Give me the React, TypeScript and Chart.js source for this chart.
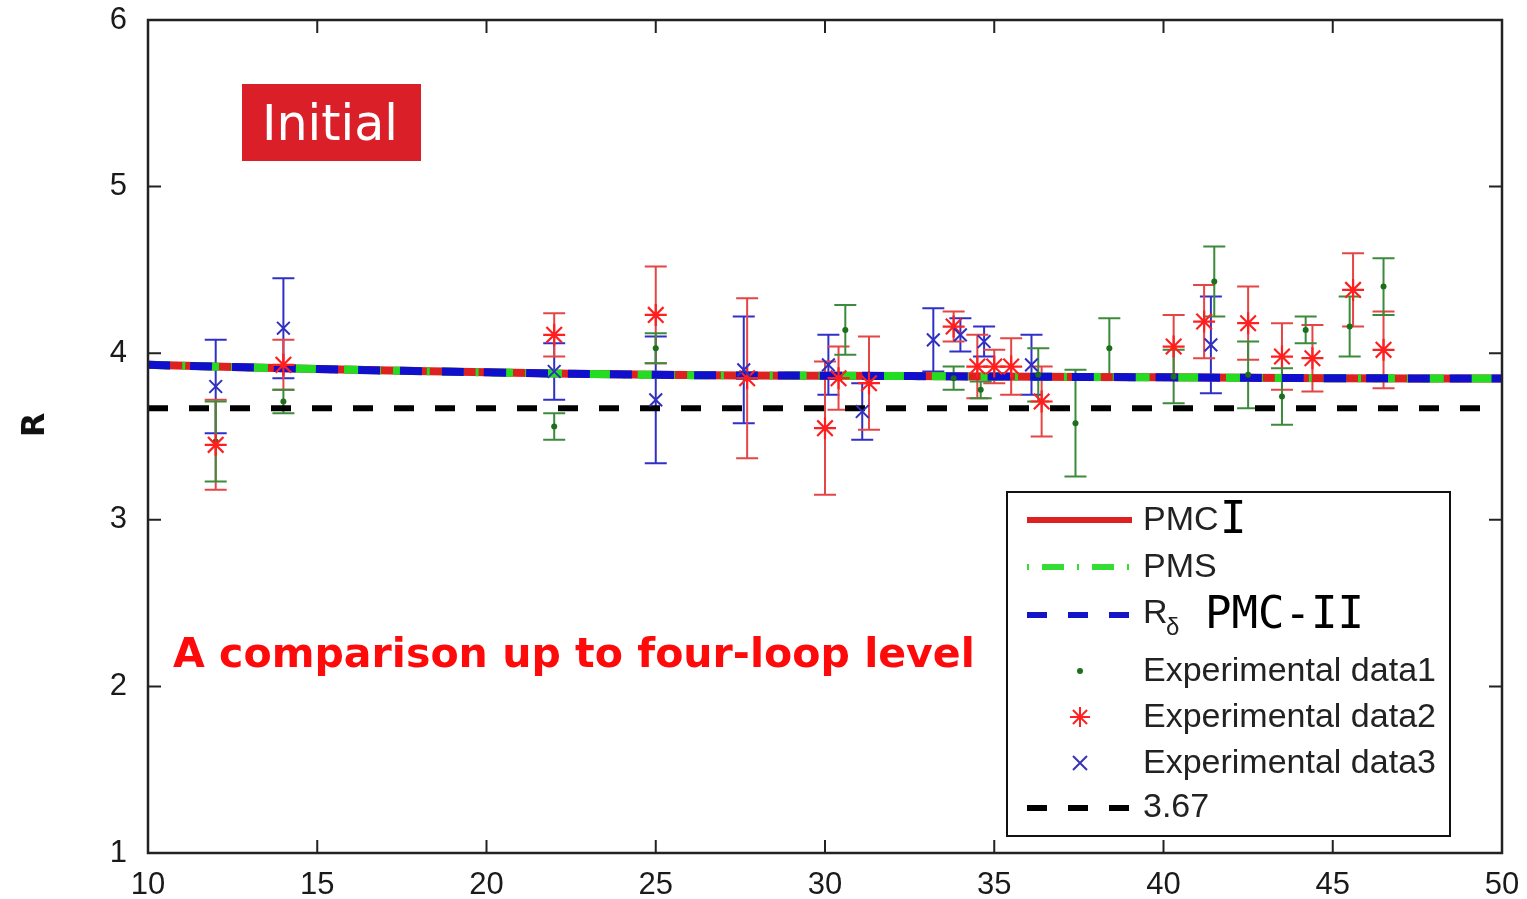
import { useEffect, useRef } from 'react';
import { Chart, registerables } from 'chart.js';
Chart.register(...registerables);

// ---------- data ----------
const curveX = [10, 15, 20, 25, 30, 35, 40, 45, 50];
const pmc1Y = [3.93, 3.905, 3.885, 3.87, 3.865, 3.86, 3.855, 3.85, 3.848];
const pmsY = [3.93, 3.905, 3.885, 3.87, 3.865, 3.86, 3.855, 3.85, 3.848];
const rdeltaY = [3.93, 3.905, 3.885, 3.87, 3.865, 3.86, 3.855, 3.85, 3.848];
const refX = [10, 50];
const refY = [3.67, 3.67];

const data1X = [12, 14, 22, 25, 30.6, 33.8, 34.6, 36.3, 37.4, 38.4, 40.3, 41.5, 42.5, 43.5, 44.2, 45.5, 46.5];
const data1Y = [3.47, 3.71, 3.56, 4.03, 4.14, 3.85, 3.78, 3.87, 3.58, 4.03, 3.86, 4.43, 3.87, 3.74, 4.14, 4.16, 4.4];
const data1E = [0.24, 0.07, 0.08, 0.09, 0.15, 0.07, 0.05, 0.16, 0.32, 0.18, 0.16, 0.21, 0.2, 0.17, 0.08, 0.18, 0.17];

const data2X = [12, 14, 22, 25, 27.7, 30, 30.4, 31.3, 33.8, 34.5, 35.0, 35.5, 36.4, 40.3, 41.2, 42.5, 43.5, 44.4, 45.6, 46.5];
const data2Y = [3.45, 3.93, 4.11, 4.23, 3.85, 3.55, 3.85, 3.82, 4.16, 3.92, 3.92, 3.92, 3.71, 4.04, 4.19, 4.18, 3.98, 3.97, 4.38, 4.02];
const data2E = [0.27, 0.15, 0.13, 0.29, 0.48, 0.4, 0.19, 0.28, 0.09, 0.19, 0.1, 0.17, 0.21, 0.19, 0.22, 0.22, 0.2, 0.2, 0.22, 0.23];

const data3X = [12, 14, 22, 25, 27.6, 30.1, 31.1, 33.2, 34.0, 34.7, 36.1, 41.4];
const data3Y = [3.8, 4.15, 3.89, 3.72, 3.9, 3.93, 3.65, 4.08, 4.11, 4.07, 3.93, 4.05];
const data3E = [0.28, 0.3, 0.17, 0.38, 0.32, 0.18, 0.17, 0.19, 0.1, 0.09, 0.18, 0.29];

const xTicks = [10, 15, 20, 25, 30, 35, 40, 45, 50];
const yTicks = [1, 2, 3, 4, 5, 6];

const pts = (xs: number[], ys: number[]) => xs.map((x, i) => ({ x, y: ys[i] }));

const SANS = '"Liberation Sans", Arial, sans-serif';
const MONO = '"DejaVu Sans Mono", monospace';

const errorBars = {
  id: 'errorBars',
  beforeDatasetsDraw(chart: any) {
    const { ctx, scales } = chart;
    const x = scales.x, y = scales.y;
    chart.data.datasets.forEach((ds: any) => {
      if (!ds.errors) return;
      ctx.save();
      ctx.strokeStyle = ds.errorColor;
      ctx.lineWidth = 2;
      ds.data.forEach((p: any, i: number) => {
        const px = x.getPixelForValue(p.x);
        const top = y.getPixelForValue(p.y + ds.errors[i]);
        const bot = y.getPixelForValue(p.y - ds.errors[i]);
        ctx.beginPath();
        ctx.moveTo(px, top); ctx.lineTo(px, bot);
        ctx.moveTo(px - 11, top); ctx.lineTo(px + 11, top);
        ctx.moveTo(px - 11, bot); ctx.lineTo(px + 11, bot);
        ctx.stroke();
      });
      ctx.restore();
    });
  },
};

const frame = {
  id: 'frame',
  afterDatasetsDraw(chart: any) {
    const { ctx, chartArea: a, scales } = chart;
    ctx.save();
    ctx.strokeStyle = '#222';
    ctx.lineWidth = 2.5;
    ctx.strokeRect(a.left, a.top, a.right - a.left, a.bottom - a.top);
    ctx.lineWidth = 2;
    ctx.beginPath();
    const tl = 13;
    xTicks.forEach((t) => {
      const px = scales.x.getPixelForValue(t);
      ctx.moveTo(px, a.bottom); ctx.lineTo(px, a.bottom - tl);
      ctx.moveTo(px, a.top); ctx.lineTo(px, a.top + tl);
    });
    yTicks.forEach((t) => {
      const py = scales.y.getPixelForValue(t);
      ctx.moveTo(a.left, py); ctx.lineTo(a.left + tl, py);
      ctx.moveTo(a.right, py); ctx.lineTo(a.right - tl, py);
    });
    ctx.stroke();
    ctx.restore();
  },
};

function fitFont(ctx: CanvasRenderingContext2D, text: string, family: string, weight: string, width: number) {
  ctx.font = `${weight} 40px ${family}`;
  const w = ctx.measureText(text).width;
  return 40 * width / w;
}

const overlay = {
  id: 'overlay',
  afterDraw(chart: any) {
    const ctx: CanvasRenderingContext2D = chart.ctx;
    ctx.save();
    // y axis title
    ctx.save();
    ctx.translate(36, 425);
    ctx.rotate(-Math.PI / 2);
    ctx.fillStyle = '#111';
    ctx.font = `bold 32px "DejaVu Sans", sans-serif`;
    ctx.textAlign = 'center';
    ctx.textBaseline = 'middle';
    ctx.fillText('R', 0, 0);
    ctx.restore();

    // Initial box
    ctx.fillStyle = '#da1f29';
    ctx.fillRect(242, 84, 179, 77);
    ctx.fillStyle = '#fff';
    let fs = fitFont(ctx, 'Initial', '"DejaVu Sans", sans-serif', 'normal', 136);
    ctx.font = `normal ${fs}px "DejaVu Sans", sans-serif`;
    ctx.textAlign = 'left';
    ctx.textBaseline = 'alphabetic';
    ctx.fillText('Initial', 262, 140);

    // comparison text
    ctx.fillStyle = '#ff0a0a';
    fs = fitFont(ctx, 'A comparison up to four-loop level', '"DejaVu Sans", sans-serif', 'bold', 802);
    ctx.font = `bold ${fs}px "DejaVu Sans", sans-serif`;
    ctx.fillText('A comparison up to four-loop level', 173, 667);

    // legend
    ctx.fillStyle = '#fff';
    ctx.fillRect(1007, 492, 443, 344);
    ctx.strokeStyle = '#111';
    ctx.lineWidth = 2;
    ctx.strokeRect(1007, 492, 443, 344);

    const line = (y: number, color: string, dash: number[], w = 6) => {
      ctx.save();
      ctx.strokeStyle = color;
      ctx.lineWidth = w;
      ctx.setLineDash(dash);
      ctx.beginPath();
      ctx.moveTo(1027, y); ctx.lineTo(1132, y);
      ctx.stroke();
      ctx.restore();
    };
    line(520, '#dd2020', []);
    line(567, '#33dd33', [2, 13, 22, 13]);
    line(615, '#1515c8', [20, 21]);
    line(808, '#000', [20, 21]);

    // markers
    ctx.fillStyle = '#1d6e1d';
    ctx.beginPath(); ctx.arc(1080, 671, 3, 0, Math.PI * 2); ctx.fill();
    ctx.strokeStyle = '#ff2020'; ctx.lineWidth = 2;
    ctx.beginPath();
    for (let k = 0; k < 4; k++) {
      const ang = (k * Math.PI) / 4;
      ctx.moveTo(1080 - 10 * Math.cos(ang), 717 - 10 * Math.sin(ang));
      ctx.lineTo(1080 + 10 * Math.cos(ang), 717 + 10 * Math.sin(ang));
    }
    ctx.stroke();
    ctx.strokeStyle = '#3535b5';
    ctx.beginPath();
    ctx.moveTo(1073, 756); ctx.lineTo(1087, 770);
    ctx.moveTo(1087, 756); ctx.lineTo(1073, 770);
    ctx.stroke();

    ctx.fillStyle = '#222';
    ctx.textBaseline = 'middle';
    ctx.font = `34px ${SANS}`;
    ctx.fillText('PMC', 1143, 521);
    ctx.fillText('PMS', 1143, 568);
    ctx.fillText('R', 1143, 614);
    ctx.fillText('Experimental data1', 1143, 672);
    ctx.fillText('Experimental data2', 1143, 718);
    ctx.fillText('Experimental data3', 1143, 764);
    ctx.fillText('3.67', 1143, 808);
    ctx.font = `24px ${SANS}`;
    ctx.fillText('δ', 1166, 628);
    ctx.fillStyle = '#000';
    ctx.font = `44px ${MONO}`;
    ctx.fillText('I', 1220, 522);
    ctx.fillText('PMC-II', 1205, 617);
    ctx.restore();
  },
};

export default function App() {
  const ref = useRef<HTMLCanvasElement | null>(null);
  useEffect(() => {
    document.body.style.margin = '0';
    const canvas = ref.current!;
    const chart = new Chart(canvas, {
      type: 'line',
      data: {
        datasets: [
          {
            label: 'Experimental data3',
            data: pts(data3X, data3Y),
            showLine: false,
            pointStyle: 'crossRot',
            pointRadius: 9,
            pointBorderWidth: 2,
            borderColor: '#2f2fc0',
            backgroundColor: '#2f2fc0',
            errors: data3E,
            errorColor: '#3030c8',
          } as any,
          {
            label: 'Experimental data2',
            data: pts(data2X, data2Y),
            showLine: false,
            pointStyle: 'star',
            pointRadius: 11,
            pointBorderWidth: 2.2,
            borderColor: '#ff1f1f',
            backgroundColor: '#ff1f1f',
            errors: data2E,
            errorColor: '#e64545',
          } as any,
          {
            label: 'Experimental data1',
            data: pts(data1X, data1Y),
            showLine: false,
            pointStyle: 'circle',
            pointRadius: 3,
            pointBorderWidth: 0,
            borderColor: '#1d6e1d',
            backgroundColor: '#1d6e1d',
            errors: data1E,
            errorColor: '#3c8a3c',
          } as any,
          {
            label: 'R_delta',
            data: pts(curveX, rdeltaY),
            borderColor: '#1010cc',
            borderWidth: 8,
            borderDash: [22, 20],
            pointRadius: 0,
            tension: 0.4,
          },
          {
            label: 'PMS',
            data: pts(curveX, pmsY),
            borderColor: '#22dd22',
            borderWidth: 8,
            borderDash: [22, 12, 3, 12],
            pointRadius: 0,
            tension: 0.4,
          },
          {
            label: 'PMC-I',
            data: pts(curveX, pmc1Y),
            borderColor: '#dd2020',
            borderWidth: 8,
            pointRadius: 0,
            tension: 0.4,
          },
          {
            label: '3.67',
            data: pts(refX, refY),
            borderColor: '#000',
            borderWidth: 6,
            borderDash: [20, 21],
            pointRadius: 0,
          },
        ],
      },
      options: {
        animation: false,
        responsive: false,
        devicePixelRatio: 1,
        layout: { padding: { top: 20, right: 25, left: 0, bottom: 0 } },
        plugins: { legend: { display: false }, tooltip: { enabled: false } },
        scales: {
          x: {
            type: 'linear',
            min: 10,
            max: 50,
            grid: { display: false },
            border: { display: false },
            afterBuildTicks: (s: any) => { s.ticks = xTicks.map((v) => ({ value: v })); },
            afterFit: (s: any) => { s.height = 46; s.paddingLeft = 0; s.paddingRight = 0; },
            ticks: { color: '#1a1a1a', font: { family: SANS, size: 31 }, padding: 6, maxRotation: 0 },
          },
          y: {
            type: 'linear',
            min: 1,
            max: 6,
            grid: { display: false },
            border: { display: false },
            afterBuildTicks: (s: any) => { s.ticks = yTicks.map((v) => ({ value: v })); },
            afterFit: (s: any) => { s.width = 148; s.paddingTop = 0; s.paddingBottom = 0; },
            ticks: { color: '#1a1a1a', font: { family: SANS, size: 31 }, padding: 13 },
          },
        },
      } as any,
      plugins: [errorBars, frame, overlay],
    });
    return () => chart.destroy();
  }, []);
  return (
    <div style={{ position: 'fixed', left: 0, top: 0, width: 1527, height: 899, background: '#fff' }}>
      <canvas ref={ref} width={1527} height={899} />
    </div>
  );
}
